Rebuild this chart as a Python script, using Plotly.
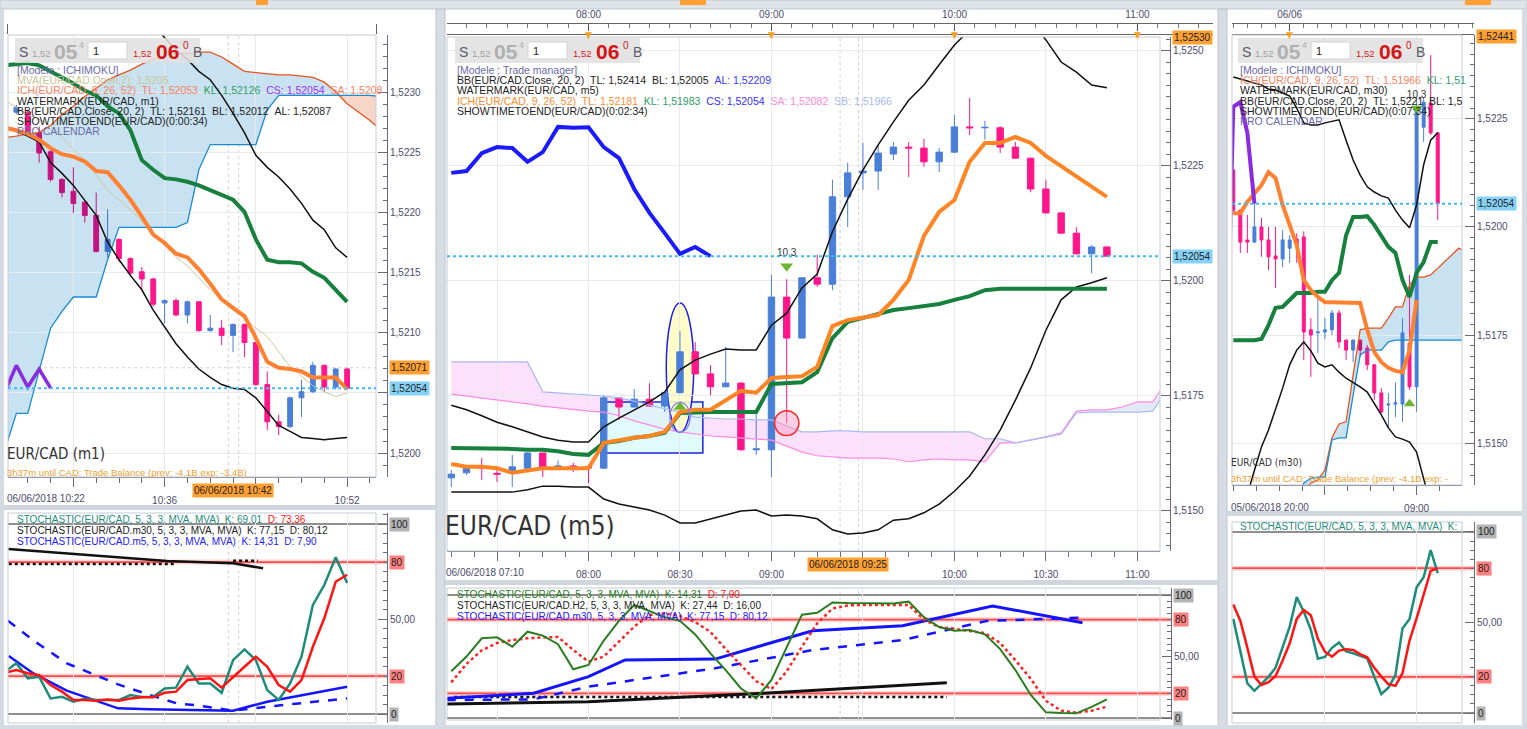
"""EUR/CAD workspace: Ichimoku + Bollinger charts on m1, m5 and m30 with stochastic panes."""

import pandas as pd
import plotly.graph_objects as go

W, H = 1527, 729

BULL, BEAR = "#4a7fd8", "#ff168a"
BULL_IN, BEAR_IN = "#3a6fcb", "#c4137f"       # candles seen through the blue cloud
GRID, AXIS, FRAME = "#e6e9ed", "#6b6b78", "#c4cbd3"
FONT = "Liberation Sans, Arial, sans-serif"
NARROW = "Liberation Sans Narrow, DejaVu Sans Condensed, Liberation Sans"
TICKFONT = dict(family=FONT, size=10, color="#4c4c6c")

# ------------------------------------------------------------------ m1 (left)
M1_FIRST_BAR = "2018-06-06 10:23"
M1_OPEN = [1.52284, 1.52284, 1.52267, 1.52251, 1.52228, 1.52218, 1.52209, 1.52198, 1.52168, 1.52178,
           1.52162, 1.52151, 1.52145, 1.52125, 1.52127, 1.52115, 1.52126, 1.52102, 1.52104, 1.52098,
           1.52107, 1.52092, 1.52057, 1.52026, 1.52022, 1.52046, 1.52051, 1.52073, 1.52055, 1.52070]
M1_HIGH = [1.52290, 1.52286, 1.52272, 1.52253, 1.52229, 1.52238, 1.52210, 1.52217, 1.52203, 1.52179,
           1.52163, 1.52155, 1.52146, 1.52128, 1.52129, 1.52127, 1.52126, 1.52115, 1.52111, 1.52108,
           1.52108, 1.52093, 1.52068, 1.52032, 1.52047, 1.52061, 1.52076, 1.52074, 1.52071, 1.52071]
M1_LOW = [1.52282, 1.52265, 1.52242, 1.52226, 1.52213, 1.52200, 1.52192, 1.52167, 1.52163, 1.52159,
          1.52147, 1.52136, 1.52122, 1.52108, 1.52114, 1.52108, 1.52101, 1.52101, 1.52090, 1.52084,
          1.52080, 1.52056, 1.52019, 1.52015, 1.52021, 1.52030, 1.52050, 1.52051, 1.52053, 1.52053]
M1_CLOSE = [1.52288, 1.52267, 1.52250, 1.52228, 1.52217, 1.52208, 1.52198, 1.52168, 1.52178, 1.52162,
            1.52150, 1.52145, 1.52124, 1.52127, 1.52115, 1.52126, 1.52102, 1.52104, 1.52098, 1.52107,
            1.52092, 1.52057, 1.52026, 1.52022, 1.52046, 1.52051, 1.52073, 1.52055, 1.52070, 1.52054]

M1_LINES_START = "2018-06-06 10:22"
M1_BB_LOW = [1.52271, 1.52268, 1.52264, 1.52259, 1.52242, 1.52233, 1.52223, 1.52211, 1.52198, 1.52176,
             1.52161, 1.52148, 1.52136, 1.52119, 1.52105, 1.52091, 1.52080, 1.52070, 1.52063, 1.52057,
             1.52054, 1.52053, 1.52046, 1.52034, 1.52023, 1.52018, 1.52013, 1.52012, 1.52011, 1.52012,
             1.52013]
M1_BB_UP_START = "2018-06-06 10:32"
M1_BB_UP = [1.52388, 1.52378, 1.52368, 1.52358, 1.52346, 1.52336, 1.52328, 1.52318, 1.52311, 1.52298,
            1.52283, 1.52267, 1.52248, 1.52238, 1.52230, 1.52220, 1.52208, 1.52194, 1.52186, 1.52171,
            1.52163]
M1_TENKAN = [1.52271, 1.52269, 1.52266, 1.52261, 1.52254, 1.52249, 1.52247, 1.52243, 1.52235, 1.52234,
             1.52223, 1.52211, 1.52197, 1.52182, 1.52175, 1.52166, 1.52163, 1.52153, 1.52141, 1.52128,
             1.52121, 1.52114, 1.52096, 1.52076, 1.52071, 1.52070, 1.52068, 1.52063, 1.52063, 1.52063,
             1.52053]
M1_KIJUN = [1.52323, 1.52324, 1.52325, 1.52323, 1.52318, 1.52313, 1.52308, 1.52302, 1.52298, 1.52289,
            1.52283, 1.52269, 1.52244, 1.52236, 1.52229, 1.52228, 1.52226, 1.52223, 1.52219, 1.52215,
            1.52211, 1.52201, 1.52178, 1.52161, 1.52159, 1.52159, 1.52158, 1.52151, 1.52146, 1.52136,
            1.52126]
M1_MVA = [1.52294, 1.52288, 1.52282, 1.52278, 1.52273, 1.52263, 1.52253, 1.52244, 1.52231, 1.52219,
          1.52211, 1.52203, 1.52193, 1.52183, 1.52173, 1.52163, 1.52156, 1.52146, 1.52136, 1.52128,
          1.52119, 1.52112, 1.52104, 1.52097, 1.52084, 1.52072, 1.52064, 1.52056, 1.52051, 1.52047,
          1.52050]
M1_SPAN_A = [1.52263, 1.52264, 1.52266, 1.52267, 1.52273, 1.52282, 1.52289, 1.52297, 1.52304, 1.52311,
             1.52315, 1.52319, 1.52324, 1.52328, 1.52331, 1.52333, 1.52333, 1.52334, 1.52334, 1.52330,
             1.52324, 1.52318, 1.52317, 1.52316, 1.52315, 1.52315, 1.52314, 1.52313, 1.52309, 1.52301,
             1.52291, 1.52284, 1.52277, 1.52269]
M1_SPAN_B = [1.52003, 1.52033, 1.52033, 1.52069, 1.52104, 1.52118, 1.52130, 1.52130, 1.52130, 1.52161,
             1.52188, 1.52188, 1.52188, 1.52188, 1.52188, 1.52188, 1.52192, 1.52236, 1.52257, 1.52257,
             1.52257, 1.52257, 1.52257, 1.52286, 1.52298, 1.52298, 1.52298, 1.52298, 1.52298, 1.52298,
             1.52298, 1.52298, 1.52298, 1.52297]
M1_PRICE_TICKS = [1.5200, 1.5205, 1.5210, 1.5215, 1.5220, 1.5225, 1.5230]
M1_PRICE_LABELS = ["1,5200", "", "1,5210", "1,5215", "1,5220", "1,5225", "1,5230"]
M1_STOCH_K = [22.3, 26.7, 18.8, 19.6, 8.2, 9.1, 6.5, 8.0, 7.4, 7.4, 7.4, 10.0, 9.0, 9.1, 13.5, 13.9,
              24.9, 16.1, 16.1, 11.2, 28.4, 34.0, 28.4, 12.6, 7.4, 16.1, 30.2, 57.4, 67.9, 82.5, 69.0]
M1_STOCH_D = [21.8, 23.2, 21.5, 20.5, 15.3, 11.8, 7.4, 7.4, 7.0, 7.7, 7.0, 8.2, 8.8, 8.8, 11.2, 11.8,
              17.9, 18.2, 18.8, 13.9, 19.6, 24.9, 30.2, 24.9, 15.3, 11.8, 17.9, 35.4, 50.4, 69.6, 73.3]
M1_M5K_T = ["10:22:20", "10:24:30", "10:27:25", "10:31:55", "10:34:40", "10:38:10", "10:42:00", "10:45:00", "10:52:00"]
M1_M5K = [30.5, 21.4, 12.3, 3.0, 2.6, 2.1, 1.8, 6.5, 14.4]
M1_M5D_T = ["10:22:16", "10:24:27", "10:27:26", "10:31:55", "10:34:43", "10:37:06", "10:39:06", "10:42:00",
            "10:45:00", "10:52:00"]
M1_M5D = [49.1, 38.9, 26.7, 15.6, 10.0, 5.6, 4.4, 1.8, 3.9, 8.2]
M1_M30K_T = ["10:22:18", "10:36:13", "10:42:00", "10:44:38"]
M1_M30K = [86.8, 80.5, 79.3, 76.7]
M1_M30D_T = ["10:22:20", "10:37:00", None, "10:42:00", "10:44:10"]
M1_M30D = [79.0, 79.0, None, 80.7, 80.7]

# ---------------------------------------------------------------- m5 (middle)
M5_FIRST_BAR = "2018-06-06 07:15"
M5_OPEN = [1.51572, 1.51583, 1.51595, 1.51582, 1.51585, 1.51593, 1.51626, 1.51595, 1.51598, 1.51596,
           1.51593, 1.51746, 1.51726, 1.51743, 1.51728, 1.51757, 1.51846, 1.51798, 1.51770, 1.51778,
           1.51633, 1.51633, 1.51965, 1.51876, 1.52007, 1.51993, 1.52183, 1.52235, 1.52239, 1.52276,
           1.52291, 1.52289, 1.52259, 1.52280, 1.52335, 1.52333, 1.52333, 1.52291, 1.52267, 1.52200,
           1.52148, 1.52104, 1.52059, 1.52074]
M5_HIGH = [1.51589, 1.51600, 1.51615, 1.51596, 1.51622, 1.51627, 1.51627, 1.51610, 1.51605, 1.51600,
           1.51752, 1.51748, 1.51765, 1.51778, 1.51758, 1.51891, 1.51867, 1.51817, 1.51857, 1.51780,
           1.51720, 1.52013, 1.52004, 1.52008, 1.52057, 1.52220, 1.52257, 1.52300, 1.52296, 1.52302,
           1.52302, 1.52309, 1.52289, 1.52361, 1.52398, 1.52348, 1.52337, 1.52302, 1.52268, 1.52220,
           1.52149, 1.52117, 1.52078, 1.52075]
M5_LOW = [1.51552, 1.51578, 1.51567, 1.51563, 1.51552, 1.51592, 1.51574, 1.51589, 1.51585, 1.51560,
          1.51592, 1.51698, 1.51725, 1.51727, 1.51715, 1.51756, 1.51797, 1.51752, 1.51769, 1.51631,
          1.51622, 1.51574, 1.51691, 1.51875, 1.51987, 1.51980, 1.52117, 1.52198, 1.52198, 1.52263,
          1.52226, 1.52248, 1.52237, 1.52279, 1.52317, 1.52307, 1.52278, 1.52266, 1.52193, 1.52147,
          1.52103, 1.52058, 1.52017, 1.52053]
M5_CLOSE = [1.51580, 1.51596, 1.51593, 1.51580, 1.51596, 1.51626, 1.51593, 1.51598, 1.51596, 1.51594,
            1.51746, 1.51726, 1.51743, 1.51728, 1.51757, 1.51846, 1.51798, 1.51770, 1.51778, 1.51633,
            1.51635, 1.51965, 1.51876, 1.52007, 1.51993, 1.52183, 1.52235, 1.52239, 1.52278, 1.52291,
            1.52289, 1.52259, 1.52280, 1.52335, 1.52333, 1.52334, 1.52291, 1.52267, 1.52200, 1.52148,
            1.52104, 1.52059, 1.52074, 1.52054]
M5_BB_UP = [1.51730, 1.51720, 1.51707, 1.51693, 1.51683, 1.51672, 1.51661, 1.51654, 1.51650, 1.51650,
            1.51683, 1.51702, 1.51720, 1.51737, 1.51759, 1.51807, 1.51828, 1.51841, 1.51852, 1.51850,
            1.51850, 1.51904, 1.51930, 1.51985, 1.52015, 1.52107, 1.52178, 1.52241, 1.52296, 1.52346,
            1.52393, 1.52426, 1.52470, 1.52513, 1.52546, 1.52578, 1.52600, 1.52600, 1.52567, 1.52524,
            1.52476, 1.52454, 1.52426, 1.52420]
M5_BB_LOW = [1.51541, 1.51541, 1.51541, 1.51541, 1.51541, 1.51546, 1.51554, 1.51554, 1.51552, 1.51552,
             1.51526, 1.51515, 1.51509, 1.51502, 1.51491, 1.51474, 1.51474, 1.51483, 1.51491, 1.51500,
             1.51502, 1.51489, 1.51491, 1.51489, 1.51483, 1.51459, 1.51450, 1.51452, 1.51459, 1.51480,
             1.51483, 1.51496, 1.51515, 1.51543, 1.51576, 1.51622, 1.51676, 1.51741, 1.51811, 1.51893,
             1.51959, 1.51987, 1.51996, 1.52007]
M5_TENKAN = [1.51602, 1.51596, 1.51596, 1.51593, 1.51583, 1.51587, 1.51593, 1.51593, 1.51593, 1.51593,
             1.51648, 1.51654, 1.51659, 1.51663, 1.51672, 1.51715, 1.51720, 1.51720, 1.51741, 1.51761,
             1.51757, 1.51789, 1.51791, 1.51793, 1.51813, 1.51902, 1.51915, 1.51920, 1.51926, 1.51959,
             1.52002, 1.52098, 1.52150, 1.52176, 1.52259, 1.52300, 1.52300, 1.52313, 1.52300, 1.52272,
             1.52250, 1.52228, 1.52207, 1.52183]
M5_KIJUN = [1.51637, 1.51637, 1.51635, 1.51635, 1.51635, 1.51633, 1.51633, 1.51630, 1.51624, 1.51622,
            1.51648, 1.51652, 1.51659, 1.51663, 1.51670, 1.51713, 1.51715, 1.51715, 1.51715, 1.51715,
            1.51715, 1.51776, 1.51778, 1.51780, 1.51802, 1.51876, 1.51911, 1.51920, 1.51930, 1.51937,
            1.51941, 1.51946, 1.51950, 1.51959, 1.51967, 1.51980, 1.51983, 1.51983, 1.51983, 1.51983,
            1.51983, 1.51983, 1.51983, 1.51983]
M5_SPAN_A = [1.51754, 1.51750, 1.51746, 1.51741, 1.51737, 1.51733, 1.51728, 1.51724, 1.51720, 1.51717,
             1.51715, 1.51707, 1.51696, 1.51687, 1.51678, 1.51672, 1.51667, 1.51663, 1.51661, 1.51659,
             1.51657, 1.51654, 1.51641, 1.51628, 1.51620, 1.51617, 1.51615, 1.51615, 1.51615, 1.51613,
             1.51607, 1.51611, 1.51613, 1.51611, 1.51611, 1.51607, 1.51648, 1.51648, 1.51654, 1.51661,
             1.51670, 1.51717, 1.51720, 1.51720, 1.51726, 1.51737, 1.51737, 1.51785]
M5_SPAN_B = [1.51824, 1.51824, 1.51824, 1.51824, 1.51824, 1.51824, 1.51759, 1.51757, 1.51754, 1.51752,
             1.51750, 1.51746, 1.51739, 1.51730, 1.51722, 1.51715, 1.51704, 1.51702, 1.51700, 1.51700,
             1.51698, 1.51698, 1.51685, 1.51672, 1.51672, 1.51674, 1.51674, 1.51672, 1.51672, 1.51672,
             1.51672, 1.51672, 1.51672, 1.51672, 1.51672, 1.51657, 1.51657, 1.51648, 1.51654, 1.51661,
             1.51667, 1.51713, 1.51715, 1.51715, 1.51715, 1.51715, 1.51717, 1.51765]
M5_STOCH_K = [38, 50, 64.8, 65.6, 58.0, 70.2, 67, 60, 39.6, 43.1, 63, 79, 91.9, 87, 82, 79, 68, 52.6,
              39, 24, 16.0, 31, 57, 84, 85.6, 94.0, 93.5, 93.2, 93.2, 93.2, 94.6, 82, 74, 71, 71.5,
              68, 56, 39, 19, 4.6, 4.0, 3.8, 9, 15.2]
M5_STOCH_D = [29, 44, 55, 61, 63.4, 64.8, 65.5, 65.9, 55.3, 45.8, 50, 62, 74.3, 83.7, 85.1, 83, 78,
              70, 56, 43, 30, 23.5, 38, 58, 77, 89, 91.5, 91.9, 91.9, 91.9, 91.9, 80, 74, 72.5, 71,
              69, 61, 47, 32, 14, 6, 4.3, 6, 9.2]
M5_M30K_T = ["07:13:30", "07:42:00", "08:00:00", "08:12:00", "08:41:30", "09:13:30", "09:43:00", "10:12:30", "10:42:00"]
M5_M30K = [16.0, 20.1, 33.6, 47.2, 47.9, 71.0, 75.1, 91.1, 77.5]
M5_M30D_T = ["07:13:30", "07:42:00", "08:00:00", "08:41:30", "09:13:30", "09:43:00", "10:10:30", "10:42:00"]
M5_M30D = [14.6, 15.2, 25.5, 40.4, 55.3, 63.4, 78.9, 81.6]
M5_H2K_T = ["07:13:30", "08:00:00", "08:57:30", "09:57:30"]
M5_H2K = [11.4, 13.3, 20.1, 28.7]
M5_H2D_T = ["07:16:00", "09:57:30"]
M5_H2D = [17.0, 17.0]

# --------------------------------------------------------------- m30 (right)
M30_FIRST_BAR = "2018-06-05 20:00"
M30_OPEN = [1.52132, 1.52039, 1.51970, 1.51965, 1.52000, 1.51970, 1.51933, 1.51926, 1.51951, 1.51972,
            1.51977, 1.51762, 1.51755, 1.51757, 1.51762, 1.51801, 1.51738, 1.51715, 1.51738, 1.51720,
            1.51681, 1.51616, 1.51588, 1.51590, 1.51590, 1.51731, 1.51630, 1.52231, 1.52287, 1.52218]
M30_HIGH = [1.52135, 1.52041, 1.52028, 1.52063, 1.52021, 1.52000, 1.52000, 1.51993, 1.51981, 1.51985,
            1.51990, 1.51789, 1.51836, 1.51790, 1.51808, 1.51808, 1.51740, 1.51740, 1.51740, 1.51727,
            1.51683, 1.51627, 1.51616, 1.51640, 1.51789, 1.51889, 1.52299, 1.52299, 1.52398, 1.52218]
M30_LOW = [1.52030, 1.51940, 1.51940, 1.51963, 1.51931, 1.51900, 1.51859, 1.51907, 1.51917, 1.51917,
           1.51692, 1.51653, 1.51708, 1.51740, 1.51750, 1.51720, 1.51692, 1.51687, 1.51700, 1.51669,
           1.51600, 1.51569, 1.51535, 1.51560, 1.51549, 1.51623, 1.51572, 1.52197, 1.52213, 1.52016]
M30_CLOSE = [1.52039, 1.51965, 1.51965, 1.52000, 1.51970, 1.51931, 1.51926, 1.51970, 1.51970, 1.51958,
             1.51757, 1.51750, 1.51757, 1.51762, 1.51801, 1.51734, 1.51715, 1.51738, 1.51715, 1.51681,
             1.51616, 1.51572, 1.51590, 1.51593, 1.51755, 1.51630, 1.52278, 1.52289, 1.52218, 1.52054]
M30_BB_UP = [1.52347, 1.52343, 1.52338, 1.52333, 1.52329, 1.52319, 1.52317, 1.52310, 1.52303, 1.52275,
             1.52241, 1.52236, 1.52236, 1.52241, 1.52245, 1.52248, 1.52201, 1.52155, 1.52120, 1.52093,
             1.52081, 1.52072, 1.52067, 1.52039, 1.52016, 1.51998, 1.52051, 1.52144, 1.52201, 1.52218]
M30_BB_LOW = [1.51299, 1.51340, 1.51380, 1.51437, 1.51491, 1.51530, 1.51576, 1.51627, 1.51681, 1.51715,
              1.51734, 1.51713, 1.51685, 1.51676, 1.51681, 1.51664, 1.51650, 1.51641, 1.51630, 1.51618,
              1.51593, 1.51565, 1.51535, 1.51514, 1.51509, 1.51502, 1.51479, 1.51414, 1.51356, 1.51310]
M30_TENKAN = [1.52032, 1.52032, 1.52058, 1.52076, 1.52097, 1.52127, 1.52113, 1.52051, 1.52005, 1.51958,
              1.51877, 1.51854, 1.51838, 1.51826, 1.51826, 1.51826, 1.51826, 1.51826, 1.51824, 1.51762,
              1.51711, 1.51687, 1.51674, 1.51667, 1.51664, 1.51715, 1.51831]
M30_KIJUN = [1.51738, 1.51738, 1.51738, 1.51738, 1.51741, 1.51773, 1.51813, 1.51815, 1.51831, 1.51847,
             1.51847, 1.51847, 1.51850, 1.51850, 1.51877, 1.51894, 1.51981, 1.52023, 1.52023, 1.52025,
             1.52005, 1.51981, 1.51954, 1.51940, 1.51877, 1.51838, 1.51894, 1.51919, 1.51965, 1.51965]
M30_CLOUD_START = "2018-06-06 00:30"
M30_SPAN_A = [1.51368, 1.51391, 1.51407, 1.51414, 1.51437, 1.51512, 1.51544, 1.51549, 1.51657, 1.51762,
              1.51766, 1.51766, 1.51766, 1.51789, 1.51815, 1.51815, 1.51866, 1.51884, 1.51884, 1.51889,
              1.51905, 1.51919, 1.51935, 1.51951, 1.51942]
M30_SPAN_B = [1.51368, 1.51407, 1.51419, 1.51421, 1.51421, 1.51507, 1.51512, 1.51512, 1.51611, 1.51704,
              1.51715, 1.51715, 1.51715, 1.51734, 1.51738, 1.51738, 1.51738, 1.51738, 1.51738, 1.51738,
              1.51738, 1.51738, 1.51738, 1.51738, 1.51738]
M30_STOCH_K = [52, 35, 16.4, 12.3, 16, 20, 25, 36, 47.7, 64, 56, 46, 30, 31, 36, 39, 34, 33, 31.5, 30.2,
               20, 10.5, 14, 21, 46.7, 52, 69.4, 75, 90, 77.2]
M30_STOCH_D = [60, 51, 36, 20.1, 15.5, 17, 20.5, 29, 38.5, 52, 56.9, 54, 41, 33.9, 31.1, 34.5, 35.2, 34.8,
               32.5, 30.8, 25, 20.1, 16, 15, 22, 40, 52.3, 66, 78.5, 79.9]

# ------------------------------------------------------------------ helpers
def X(px):
    return px / W


def Y(py):
    return 1 - py / H


def bars(start, n, freq):
    return pd.date_range(start, periods=n, freq=freq)


def stamp(day, hms):
    return [None if h is None else f"{day} {h}" for h in hms]


fig = go.Figure()
shapes, notes = [], []


def add_line(t, y, axes, color, width, dash="solid"):
    fig.add_trace(go.Scatter(x=t, y=y, xaxis=axes[0], yaxis=axes[1], mode="lines",
                             line=dict(color=color, width=width, dash=dash),
                             hoverinfo="skip", showlegend=False))


def add_cloud(t, a, b, axes, pieces):
    # the kumo is drawn as filled paths under the candles; pieces = (first, last, colour)
    def pt(ts, v):
        return f"{ts:%Y-%m-%d_%H:%M:%S},{v}"
    for first, last, colour in pieces:
        top = [pt(ts, v) for ts, v in zip(t[first:last], a[first:last])]
        bottom = [pt(ts, v) for ts, v in zip(t[first:last], b[first:last])][::-1]
        shapes.append(dict(type="path", xref=axes[0], yref=axes[1], path="M" + "L".join(top + bottom) + "Z",
                           fillcolor=colour, line=dict(width=0), layer="below"))


def add_candles(t, o, h, l, c, axes, up=BULL, down=BEAR):
    if not len(t):
        return
    fig.add_trace(go.Candlestick(
        x=list(t), open=o, high=h, low=l, close=c, xaxis=axes[0], yaxis=axes[1], whiskerwidth=0,
        increasing=dict(line=dict(color=up, width=1), fillcolor=up),
        decreasing=dict(line=dict(color=down, width=1), fillcolor=down),
        hoverinfo="skip", showlegend=False))


def add_candles_with_cloud(t, o, h, l, c, axes, cloud_t, a, b):
    """Candles whose body sits inside the blue kumo get the darker, tinted colours."""
    span = {ts: (min(x, y), max(x, y)) for ts, x, y in zip(cloud_t, a, b)}
    inside = [ts in span and span[ts][0] <= (oo + cc) / 2 <= span[ts][1] for ts, oo, cc in zip(t, o, c)]
    for flag, up, down in [(False, BULL, BEAR), (True, BULL_IN, BEAR_IN)]:
        keep = [n for n, f in enumerate(inside) if f == flag]
        add_candles([t[n] for n in keep], [o[n] for n in keep], [h[n] for n in keep],
                    [l[n] for n in keep], [c[n] for n in keep], axes, up, down)


def text(x, y, s, size=10, color="#222", family=FONT, **kw):
    notes.append(dict(xref="paper", yref="paper", x=X(x), y=Y(y), text=s, showarrow=False,
                      xanchor=kw.pop("xanchor", "left"), yanchor=kw.pop("yanchor", "middle"),
                      font=dict(family=family, size=size, color=color), **kw))


def rect(x0, y0, x1, y1, fill, line=None, layer="above"):
    shapes.append(dict(type="rect", xref="paper", yref="paper", x0=X(x0), x1=X(x1), y0=Y(y1), y1=Y(y0),
                       fillcolor=fill, line=dict(width=1 if line else 0, color=line or fill), layer=layer))


def hline(axes, y, x0, x1, color, width, dash="solid", layer="below"):
    shapes.append(dict(type="line", xref="paper", yref=axes[1], x0=X(x0), x1=X(x1), y0=y, y1=y,
                       line=dict(color=color, width=width, dash=dash), layer=layer))


def badge(axis_px, yref, value, label, bg):
    notes.append(dict(xref="paper", yref=yref, x=X(axis_px + 2), y=value, text=label, showarrow=False,
                      xanchor="left", yanchor="middle", bgcolor=bg, borderpad=1,
                      font=dict(family=FONT, size=10, color="#222")))


def quote_box(x0):
    rect(x0, 38, x0 + 185, 63, "rgba(224,224,224,0.88)")
    rect(x0 + 73, 42, x0 + 112, 59, "#ffffff", "#d2d2d2")
    for dx, s, size, color, y in [(2, "S", 14, "#5a5a6a", 52), (15, "1,52", 9.5, "#a0a0a0", 53),
                                  (37, "<b>05</b>", 21, "#b0b0b0", 51), (62, "4", 9, "#b0b0b0", 45),
                                  (76, "1", 11, "#222", 51), (116, "1,52", 9.5, "#d42020", 53),
                                  (139, "<b>06</b>", 21, "#d41515", 51), (166, "0", 10, "#d41515", 45),
                                  (176, "B", 14, "#5a5a6a", 52)]:
        text(x0 + dx, y, s, size, color)


def legend(x0, y0, lines, step=10.2, size=10):
    for n, (s, color) in enumerate(lines):
        text(x0, y0 + n * step, s, size, color)


SP = "\u00a0\u00a0"
SLATE = "#6a6aa8"

# ============================================================== left: m1
LP, LS = ("x", "y"), ("x2", "y2")
m1_t = bars(M1_FIRST_BAR, len(M1_OPEN), "1min")
m1_lt = bars(M1_LINES_START, len(M1_TENKAN), "1min")
m1_ct = bars(M1_LINES_START, len(M1_SPAN_A), "1min")
add_cloud(m1_ct, M1_SPAN_A, M1_SPAN_B, LP, [(0, 30, "#c9e2f1"), (29, 34, "#f7d6c8")])
add_candles_with_cloud(m1_t, M1_OPEN, M1_HIGH, M1_LOW, M1_CLOSE, LP, m1_ct, M1_SPAN_A, M1_SPAN_B)
add_line(m1_ct, M1_SPAN_A, LP, "#e8541c", 1.3)
add_line(m1_ct, M1_SPAN_B, LP, "#1b8ad0", 1.3)
add_line(m1_lt, M1_MVA, LP, "#cfc79a", 1)
add_line(m1_lt, M1_BB_LOW, LP, "#111", 1.5)
add_line(bars(M1_BB_UP_START, len(M1_BB_UP), "1min"), M1_BB_UP, LP, "#111", 1.5)
add_line(m1_lt, M1_KIJUN, LP, "#16803c", 4)
add_line(m1_lt, M1_TENKAN, LP, "#ff8030", 4)
add_line(m1_t[-5:] - pd.Timedelta(minutes=26), M1_CLOSE[-5:], LP, "#8a2be2", 3.5)

m1_st = bars(M1_LINES_START, len(M1_STOCH_K), "1min")
add_line(stamp("2018-06-06", M1_M30K_T), M1_M30K, LS, "#111", 2.5)
add_line(stamp("2018-06-06", M1_M30D_T), M1_M30D, LS, "#111", 2.5, "dot")
add_line(stamp("2018-06-06", M1_M5D_T), M1_M5D, LS, "#1414ff", 2.5, "dash")
add_line(stamp("2018-06-06", M1_M5K_T), M1_M5K, LS, "#1414ff", 2.5)
add_line(m1_st, M1_STOCH_K, LS, "#1e8c7a", 2.5)
add_line(m1_st, M1_STOCH_D, LS, "#ff1414", 2.5)

# ============================================================ middle: m5
MP, MS = ("x3", "y3"), ("x4", "y4")
m5_t = bars(M5_FIRST_BAR, len(M5_OPEN), "5min")
m5_ct = bars(M5_FIRST_BAR, len(M5_SPAN_A), "5min")
add_cloud(m5_ct, M5_SPAN_A, M5_SPAN_B, MP, [(0, 37, "#fde0fb"), (36, 48, "#e3e9f8")])
add_candles(m5_t, M5_OPEN, M5_HIGH, M5_LOW, M5_CLOSE, MP)
add_line(m5_ct, M5_SPAN_A, MP, "#ff8ae6", 1.2)
add_line(m5_ct, M5_SPAN_B, MP, "#a9b9f2", 1.2)
add_line(m5_t[-len(M5_CLOSE[26:]):] - pd.Timedelta(minutes=130), M5_CLOSE[26:], MP, "#1a1aff", 4)
add_line(m5_t, M5_BB_UP, MP, "#111", 1.5)
add_line(m5_t, M5_BB_LOW, MP, "#111", 1.5)
add_line(m5_t, M5_KIJUN, MP, "#16803c", 4)
add_line(m5_t, M5_TENKAN, MP, "#ff8424", 4)

add_line(stamp("2018-06-06", M5_H2D_T), M5_H2D, MS, "#111", 2.5, "dot")
add_line(stamp("2018-06-06", M5_H2K_T), M5_H2K, MS, "#111", 3)
add_line(stamp("2018-06-06", M5_M30D_T), M5_M30D, MS, "#1414ff", 2.5, "dash")
add_line(stamp("2018-06-06", M5_M30K_T), M5_M30K, MS, "#1414ff", 3)
add_line(m5_t, M5_STOCH_D, MS, "#ff2020", 2.5, "dot")
add_line(m5_t, M5_STOCH_K, MS, "#2a7d1e", 2)

# ============================================================= right: m30
RP, RS = ("x5", "y5"), ("x6", "y6")
m30_t = bars(M30_FIRST_BAR, len(M30_OPEN), "30min")
m30_ct = bars(M30_CLOUD_START, len(M30_SPAN_A), "30min")
add_cloud(m30_ct, M30_SPAN_A, M30_SPAN_B, RP, [(0, len(M30_SPAN_A), "#c9e2f1")])
add_candles_with_cloud(m30_t, M30_OPEN, M30_HIGH, M30_LOW, M30_CLOSE, RP, m30_ct, M30_SPAN_A, M30_SPAN_B)
add_line(m30_ct, M30_SPAN_A, RP, "#e8541c", 1.3)
add_line(m30_ct, M30_SPAN_B, RP, "#1b8ad0", 1.3)
add_line(m30_t, M30_BB_UP, RP, "#111", 1.5)
add_line(m30_t, M30_BB_LOW, RP, "#111", 1.5)
add_line(m30_t, M30_KIJUN, RP, "#16803c", 4)
add_line(m30_t[:len(M30_TENKAN)], M30_TENKAN, RP, "#ff8030", 4)
add_line(m30_t[-5:] - pd.Timedelta(hours=13), M30_CLOSE[-5:], RP, "#8a2be2", 4)

add_line(m30_t, M30_STOCH_K, RS, "#1e8c7a", 2.5)
add_line(m30_t, M30_STOCH_D, RS, "#ff1414", 2.5)

# signal arrows
ARROW = "#6cb52e"
fig.add_trace(go.Scatter(x=[m5_t[22]], y=[M5_HIGH[22] + 0.00028], xaxis="x3", yaxis="y3", mode="markers+text",
                         marker=dict(symbol="triangle-down", size=11, color=ARROW), text=["10,3"],
                         textposition="top center", textfont=dict(family=FONT, size=10, color="#333"),
                         hoverinfo="skip", showlegend=False))
fig.add_trace(go.Scatter(x=[m5_t[15]], y=[M5_LOW[15] - 0.00030], xaxis="x3", yaxis="y3", mode="markers",
                         marker=dict(symbol="triangle-up", size=11, color=ARROW), hoverinfo="skip", showlegend=False))
fig.add_trace(go.Scatter(x=[m30_t[26]], y=[M30_HIGH[26] - 0.00024], xaxis="x5", yaxis="y5", mode="markers+text",
                         marker=dict(symbol="triangle-down", size=10, color=ARROW), text=["10,3"],
                         textposition="top center", textfont=dict(family=FONT, size=10, color="#333"),
                         hoverinfo="skip", showlegend=False))
fig.add_trace(go.Scatter(x=[m30_t[25]], y=[M30_LOW[24] + 0.00042], xaxis="x5", yaxis="y5", mode="markers",
                         marker=dict(symbol="triangle-up", size=10, color=ARROW), hoverinfo="skip", showlegend=False))
for xa, ya, t0 in [("x7", "y7", m5_t[0]), ("x8", "y8", m30_t[0])]:
    fig.add_trace(go.Scatter(x=[t0], y=[0.5], xaxis=xa, yaxis=ya, mode="markers", marker=dict(opacity=0),
                             hoverinfo="skip", showlegend=False))

# ------------------------------------------------------------------- axes
def price_y(top, bottom, rng, axis_px, dtick, minor, tickvals=None, ticktext=None):
    return dict(domain=[Y(bottom), Y(top)], range=rng, anchor="free", position=X(axis_px), side="right",
                dtick=dtick, tick0=1.5, tickvals=tickvals, ticktext=ticktext, tickformat=".4f",
                ticks="inside", ticklen=9, tickcolor=AXIS,
                minor=dict(dtick=minor, tick0=1.5, ticks="inside", ticklen=4, tickcolor=AXIS, showgrid=False),
                showline=True, linecolor=AXIS, showgrid=True, gridcolor=GRID, zeroline=False,
                tickfont=TICKFONT, fixedrange=True)


def stoch_y(top, bottom, rng, axis_px):
    return dict(domain=[Y(bottom), Y(top)], range=rng, anchor="free", position=X(axis_px), side="right",
                tickvals=[0, 50, 100], ticktext=["", "50,00", ""], ticks="inside", ticklen=9, tickcolor=AXIS,
                minor=dict(dtick=5, ticks="inside", ticklen=4, tickcolor=AXIS, showgrid=False),
                showline=True, linecolor=AXIS, showgrid=False, zeroline=False, tickfont=TICKFONT,
                fixedrange=True)


def time_x(left, right, rng, anchor, major, labels, minor_ms, minor0, show=True):
    return dict(domain=[X(left), X(right)], range=rng, anchor=anchor, type="date", tickvals=major,
                ticktext=labels, showticklabels=show, ticks="outside" if show else "", ticklen=9,
                tickcolor=AXIS, ticklabelstandoff=5,
                minor=dict(dtick=minor_ms, tick0=minor0, ticks="outside" if show else "", ticklen=5,
                           tickcolor=AXIS, showgrid=False),
                showline=show, linecolor=AXIS, showgrid=True, gridcolor=GRID, zeroline=False,
                tickfont=TICKFONT, rangeslider=dict(visible=False), fixedrange=True)


def ruler_x(left, right, rng, anchor, major, labels, minor_ms, minor0):
    return dict(domain=[X(left), X(right)], range=rng, anchor=anchor, type="date", side="top",
                tickvals=major, ticktext=labels, ticks="inside", ticklen=7, tickcolor="#555",
                minor=dict(dtick=minor_ms, tick0=minor0, ticks="inside", ticklen=4, tickcolor="#777"),
                showline=True, mirror=True, linecolor="#666", showgrid=False, zeroline=False,
                tickfont=TICKFONT, ticklabelstandoff=1, fixedrange=True)


def ruler_y(top, bottom):
    return dict(domain=[Y(bottom), Y(top)], range=[0, 1], showticklabels=False, ticks="", showgrid=False,
                zeroline=False, showline=True, mirror=True, linecolor="#666", fixedrange=True)


L_RANGE = ["2018-06-06 10:22:16", "2018-06-06 10:54:32"]
L_MAJOR = stamp("2018-06-06", ["10:28", "10:36", "10:44", "10:52"])
M_RANGE = ["2018-06-06 07:13:36", "2018-06-06 11:07:25"]
M_MAJOR = stamp("2018-06-06", ["07:30", "08:00", "08:30", "09:00", "09:30", "10:00", "10:30", "11:00"])
R_RANGE = ["2018-06-05 19:54:36", "2018-06-06 12:13:12"]
R_MAJOR = stamp("2018-06-06", ["02:30", "09:00"])

fig.update_layout(
    xaxis=time_x(8, 376, L_RANGE, "y", L_MAJOR, ["", "10:36", "", "10:52"], 120000, "2018-06-06 10:22"),
    yaxis=price_y(35, 477, [1.51980, 1.523483], 387, 0.0005, 0.0001, M1_PRICE_TICKS, M1_PRICE_LABELS),
    xaxis2=time_x(8, 376, L_RANGE, "y2", L_MAJOR, None, 120000, "2018-06-06 10:22", show=False),
    yaxis2=stoch_y(513, 723, [-4.7, 105.8], 387),
    xaxis3=time_x(447, 1160, M_RANGE, "y3", M_MAJOR,
                  ["", "08:00", "08:30", "09:00", "", "10:00", "10:30", "11:00"], 450000, "2018-06-06 08:00"),
    yaxis3=price_y(37, 551, [1.514130, 1.525304], 1170, 0.0025, 0.00025),
    xaxis4=time_x(447, 1160, M_RANGE, "y4", M_MAJOR, None, 450000, "2018-06-06 08:00", show=False),
    yaxis4=stoch_y(588, 720, [-1.6, 105.7], 1171),
    xaxis5=time_x(1232, 1462, R_RANGE, "y5", R_MAJOR, ["", "09:00"], 5850000, "2018-06-06 02:30"),
    yaxis5=price_y(35, 485, [1.514028, 1.524444], 1474, 0.0025, 0.00025),
    xaxis6=time_x(1232, 1462, R_RANGE, "y6", R_MAJOR, None, 5850000, "2018-06-06 02:30", show=False),
    yaxis6=stoch_y(522, 723, [-5.5, 105.5], 1474),
    xaxis7=ruler_x(447, 1213, ["2018-06-06 07:13:36", "2018-06-06 11:24:45"], "y7",
                   stamp("2018-06-06", ["08:00", "09:00", "10:00", "11:00"]),
                   ["08:00", "09:00", "10:00", "11:00"], 400000, "2018-06-06 08:00"),
    yaxis7=ruler_y(24, 34),
    xaxis8=ruler_x(1232, 1474, ["2018-06-05 19:54:36", "2018-06-06 13:04:18"], "y8",
                   ["2018-06-06 00:00"], ["06/06"], 3600000, "2018-06-06 00:00"),
    yaxis8=ruler_y(24, 34),
)

# ----------------------------------------------------------- decorations
# window chrome
rect(0, 0, W, 9, "#dfe3e8", "#c2c9d1", layer="below")
rect(256, 0, 268, 5, "#ffa033")
rect(680, 0, 706, 5, "#ffa033")
rect(1465, 0, 1491, 5, "#ffa033")
rect(0, 9, 4, H, "#d5dbe2", layer="below")
rect(1522, 9, W, H, "#d5dbe2", layer="below")
rect(436, 9, 445, H, "#d8dde3", "#bcc4cc", layer="below")
rect(1218, 9, 1227, H, "#d8dde3", "#bcc4cc", layer="below")
rect(4, 505, 436, 510, "#cfd6dd", layer="below")
rect(445, 580, 1218, 585, "#cfd6dd", layer="below")
rect(1227, 511, 1522, 516, "#cfd6dd", layer="below")
rect(0, 725, W, H, "#d5dbe2", layer="below")

# plot frames
for xa, ya in [LP, LS, MP, MS, RP, RS]:
    shapes.append(dict(type="rect", xref=f"{xa} domain", yref=f"{ya} domain", x0=0, x1=1, y0=0, y1=1,
                       line=dict(color=FRAME, width=1), layer="above"))

# stochastic reference levels
for axes, x0, x1 in [(LS, 8, 387), (MS, 447, 1171), (RS, 1232, 1474)]:
    for lvl in (80, 20):
        hline(axes, lvl, x0, x1, "rgba(255,90,90,0.25)", 5)
        hline(axes, lvl, x0, x1, "#ff4a4a", 1.8)
    for lvl in (100, 0):
        hline(axes, lvl, x0, x1, "#6a6a6a", 1.5)
    badge(x1, axes[1], 100, "100", "#b4b4b4")
    badge(x1, axes[1], 80, "80", "#ff8080")
    badge(x1, axes[1], 20, "20", "#ff8080")
    badge(x1, axes[1], 0, "0", "#b4b4b4")

# last price line and axis badges
for axes, x0, x1, last in [(LP, 8, 376, M1_CLOSE[-1]), (MP, 447, 1160, M5_CLOSE[-1]), (RP, 1232, 1462, M30_CLOSE[-1])]:
    hline(axes, last, x0, x1, "#3cbcf0", 2, "dot", layer="above")
hline(LP, 1.52071, 8, 376, "#cfcfcf", 1, "dot")
badge(387, "y", 1.52071, "1,52071", "#ffa033")
badge(387, "y", M1_CLOSE[-1], "1,52054", "#86d2f7")
badge(1170, "y3", 1.52530, "1,52530", "#ffa033")
badge(1170, "y3", M5_CLOSE[-1], "1,52054", "#86d2f7")
badge(1474, "y5", 1.52441, "1,52441", "#ffa033")
badge(1474, "y5", M30_CLOSE[-1], "1,52054", "#86d2f7")

# crosshair guides
for axes, times in [(LP, ["10:41:35", "10:42:30"]), (LS, ["10:41:35", "10:42:30"]),
                    (MP, ["09:22:30", "09:28:30"]), (MS, ["09:22:30", "09:28:30"])]:
    for t in stamp("2018-06-06", times):
        shapes.append(dict(type="line", xref=axes[0], yref=f"{axes[1]} domain", x0=t, x1=t, y0=0, y1=1,
                           line=dict(color="#d0d0d0", width=1, dash="dot"), layer="below"))

# trade-manager marks on the m5 chart
shapes.append(dict(type="rect", xref="x3", yref="y3", x0=m5_t[10] + pd.Timedelta(seconds=20),
                   x1=m5_t[16] + pd.Timedelta(minutes=2, seconds=30), y0=1.51626, y1=M5_CLOSE[10] - 0.00009,
                   fillcolor="rgba(214,250,250,0.75)", line=dict(color="#2020e0", width=1.5), layer="below"))
shapes.append(dict(type="circle", xref="x3", yref="y3", x0=m5_t[15] - pd.Timedelta(minutes=4, seconds=30),
                   x1=m5_t[15] + pd.Timedelta(minutes=4, seconds=30), y0=M5_LOW[15] - 0.00085,
                   y1=M5_HIGH[15] + 0.00061, fillcolor="rgba(255,252,196,0.9)",
                   line=dict(color="#1e1ef0", width=1.5), layer="below"))
shapes.append(dict(type="circle", xref="x3", yref="y3", x0=m5_t[15] - pd.Timedelta(minutes=3, seconds=20),
                   x1=m5_t[15] + pd.Timedelta(minutes=3, seconds=20), y0=M5_LOW[15] - 0.00085,
                   y1=M5_LOW[15] - 0.00020, line=dict(color="#8080f0", width=1.2), layer="above"))
shapes.append(dict(type="circle", xref="x3", yref="y3", x0=m5_t[22] - pd.Timedelta(minutes=4),
                   x1=m5_t[22] + pd.Timedelta(minutes=4), y0=M5_LOW[22] - 0.00027, y1=M5_LOW[22] + 0.00027,
                   fillcolor="rgba(255,150,190,0.45)", line=dict(color="#ff2020", width=1.5), layer="above"))

# quote boxes and indicator legends
quote_box(15)
legend(15, 70, [
    ("[Modele : ICHIMOKU]", SLATE),
    ("MVA(EUR/CAD.Open,7): 1,5205", "#c9c596"),
    (f"ICH(EUR/CAD, 9, 26, 52){SP}TL: 1,52053{SP}<span style='color:#2e9e6a'>KL: 1,52126</span>{SP}"
     f"<span style='color:#9b30ff'>CS: 1,52054</span>{SP}SA: 1,5208", "#f4845f"),
    ("WATERMARK(EUR/CAD, m1)", "#222"),
    (f"BB(EUR/CAD.Close, 20, 2){SP}TL: 1,52161{SP}BL: 1,52012{SP}AL: 1,52087", "#222"),
    ("SHOWTIMETOEND(EUR/CAD)(0:00:34)", "#222"),
    ("PRO CALENDAR", SLATE),
], size=10.5)
quote_box(455)
legend(455, 70, [
    ("[Modele : Trade manager]", SLATE),
    (f"BB(EUR/CAD.Close, 20, 2){SP}TL: 1,52414{SP}BL: 1,52005{SP}<span style='color:#3a3aff'>AL: 1,52209</span>", "#222"),
    ("WATERMARK(EUR/CAD, m5)", "#222"),
    (f"ICH(EUR/CAD, 9, 26, 52){SP}TL: 1,52181{SP}<span style='color:#2e9e6a'>KL: 1,51983</span>{SP}"
     f"<span style='color:#3030ff'>CS: 1,52054</span>{SP}<span style='color:#ff8ae0'>SA: 1,52082</span>{SP}"
     f"<span style='color:#a9b9f2'>SB: 1,51966</span>", "#ff8c30"),
    ("SHOWTIMETOEND(EUR/CAD)(0:02:34)", "#222"),
], size=10.5)
quote_box(1238)
legend(1238, 70, [
    ("[Modele : ICHIMOKU]", SLATE),
    (f"ICH(EUR/CAD, 9, 26, 52){SP}TL: 1,51966{SP}<span style='color:#2e9e6a'>KL: 1,51</span>", "#f4845f"),
    ("WATERMARK(EUR/CAD, m30)", "#222"),
    (f"BB(EUR/CAD.Close, 20, 2){SP}TL: 1,5221{SP}BL: 1,5", "#222"),
    ("SHOWTIMETOEND(EUR/CAD)(0:07:34)", "#222"),
    ("PRO CALENDAR", SLATE),
], size=10.5)

legend(15, 519, [
    (f"STOCHASTIC(EUR/CAD, 5, 3, 3, MVA, MVA){SP}K: 69,01{SP}<span style='color:#ff1414'>D: 73,36</span>", "#1e8c7a"),
    (f"STOCHASTIC(EUR/CAD.m30, 5, 3, 3, MVA, MVA){SP}K: 77,15{SP}D: 80,12", "#222"),
    (f"STOCHASTIC(EUR/CAD.m5, 5, 3, 3, MVA, MVA){SP}K: 14,31{SP}D: 7,90", "#2020ff"),
], step=11)
legend(455, 594, [
    (f"STOCHASTIC(EUR/CAD, 5, 3, 3, MVA, MVA){SP}K: 14,31{SP}<span style='color:#ff1414'>D: 7,90</span>", "#2a7d1e"),
    (f"STOCHASTIC(EUR/CAD.H2, 5, 3, 3, MVA, MVA){SP}K: 27,44{SP}D: 16,00", "#222"),
    (f"STOCHASTIC(EUR/CAD.m30, 5, 3, 3, MVA, MVA){SP}K: 77,15{SP}D: 80,12", "#2020ff"),
], step=11)
legend(1238, 526, [(f"STOCHASTIC(EUR/CAD, 5, 3, 3, MVA, MVA){SP}K:", "#1e8c7a")])

# watermarks and calendar line
text(5, 454, "EUR/CAD (m1)", 15, "#333", NARROW)
text(5, 472, "3h37m until CAD: Trade Balance (prev: -4.1B exp: -3.4B)", 9.5, "#f0a030")
text(443, 526, "EUR/CAD (m5)", 26, "#333", NARROW)
text(1229, 462, "EUR/CAD (m30)", 10, "#333", NARROW)
text(1229, 478, "3h37m until CAD: Trade Balance (prev: -4.1B exp: -", 9.5, "#f0a030")

# first date labels and crosshair time badges
text(5, 498, "06/06/2018 10:22", 10, "#4c4c6c")
text(444, 572, "06/06/2018 07:10", 10, "#4c4c6c")
text(1229, 507, "05/06/2018 20:00", 10, "#4c4c6c")
notes.append(dict(xref="x", yref="paper", x="2018-06-06 10:42", y=Y(498), text="06/06/2018 10:42",
                  showarrow=False, bgcolor="#ffa033", borderpad=1, font=dict(family=FONT, size=10, color="#222")))
notes.append(dict(xref="x3", yref="paper", x="2018-06-06 09:25", y=Y(572), text="06/06/2018 09:25",
                  showarrow=False, bgcolor="#ffa033", borderpad=1, font=dict(family=FONT, size=10, color="#222")))

# ruler markers
for xa, times in [("x7", ["08:00", "09:00", "10:00", "11:00"]), ("x8", ["00:00"])]:
    for t in stamp("2018-06-06", times):
        notes.append(dict(xref=xa, yref="paper", x=t, y=Y(28), text="▼", showarrow=False,
                          font=dict(family="DejaVu Sans", size=9, color="#f5a020")))

fig.update_layout(
    width=W, height=H, margin=dict(l=0, r=0, t=0, b=0), autosize=False,
    paper_bgcolor="#ffffff", plot_bgcolor="#ffffff", separators=", ",
    showlegend=False, hovermode=False, dragmode=False, boxgap=0.4,
    shapes=shapes, annotations=notes, font=dict(family=FONT, size=10, color="#333"),
)

# the page's default body margin would shift the whole workspace by 8 px
fig.write_html("out.html", config={"displayModeBar": False},
               post_script="document.body.style.margin='0';document.body.style.overflow='hidden';")
